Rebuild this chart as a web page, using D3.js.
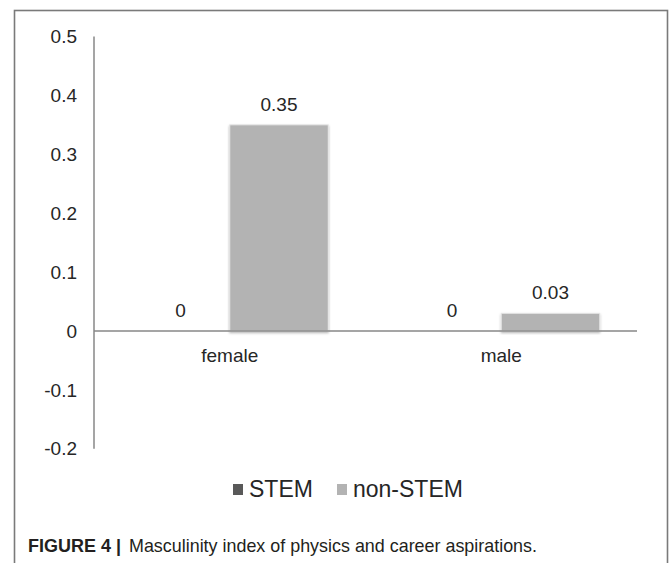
<!DOCTYPE html>
<html>
<head>
<meta charset="utf-8">
<script src="https://cdn.jsdelivr.net/npm/d3@7"></script>
<style>
  html, body { margin: 0; padding: 0; background: #fff; }
  svg { display: block; font-family: "Liberation Sans", Arial, sans-serif; }
</style>
</head>
<body>
<div id="chart"></div>
<script>
const categories = ['female', 'male']
const seriesNames = ['STEM', 'non-STEM']
const stemValues = [0, 0]
const nonStemValues = [0.35, 0.03]
const valueLabels = [['0', '0.35'], ['0', '0.03']]
const yTicks = [-0.2, -0.1, 0, 0.1, 0.2, 0.3, 0.4, 0.5]
const yTickLabels = ['-0.2', '-0.1', '0', '0.1', '0.2', '0.3', '0.4', '0.5']

const colors = { 'STEM': '#595959', 'non-STEM': '#b3b3b3' }

const width = 670
const height = 563
const margin = { left: 94, right: 33 }

const svg = d3.select('#chart').append('svg')
  .attr('width', width).attr('height', height)

const defs = svg.append('defs')
const shadow = defs.append('filter').attr('id', 'shadow')
  .attr('x', '-10%').attr('y', '-10%').attr('width', '120%').attr('height', '130%')
shadow.append('feDropShadow')
  .attr('dx', 0).attr('dy', 1.5).attr('stdDeviation', 1.2)
  .attr('flood-color', '#000').attr('flood-opacity', 0.3)

// outer frame (bottom edge runs off the page)
svg.append('rect')
  .attr('x', 14.5).attr('y', 10.5)
  .attr('width', 653).attr('height', 600)
  .attr('fill', 'none').attr('stroke', '#7a7a7a').attr('stroke-width', 1.6)

const innerW = width - margin.left - margin.right
const y = d3.scaleLinear().domain([-0.2, 0.5]).range([448.8, 36.5])
const x0 = d3.scaleBand().domain(categories).range([margin.left, margin.left + innerW])
const x1 = d3.scaleBand().domain(seriesNames).range([0, x0.bandwidth()]).paddingInner(0).paddingOuter(0.378)

const g = svg.append('g')

// y axis (line only, labels on the left)
g.append('line')
  .attr('x1', margin.left).attr('x2', margin.left)
  .attr('y1', y(0.5)).attr('y2', y(-0.2))
  .attr('stroke', '#878787').attr('stroke-width', 1.5)

g.selectAll('text.ytick').data(yTicks).join('text')
  .attr('class', 'ytick')
  .attr('x', 77).attr('y', d => y(d))
  .attr('dy', '0.35em')
  .attr('text-anchor', 'end')
  .attr('font-size', 19).attr('fill', '#262626')
  .text((d, i) => yTickLabels[i])

const rows = categories.map((c, i) => ({ cat: c, values: [stemValues[i], nonStemValues[i]], labels: valueLabels[i] }))
const bars = rows.flatMap(r => seriesNames.map((s, j) => ({ cat: r.cat, series: s, value: r.values[j], label: r.labels[j] })))

g.selectAll('rect.bar').data(bars.filter(d => d.value !== 0)).join('rect')
  .attr('class', 'bar')
  .attr('x', d => x0(d.cat) + x1(d.series))
  .attr('width', x1.bandwidth())
  .attr('y', d => y(Math.max(0, d.value)))
  .attr('height', d => Math.abs(y(d.value) - y(0)))
  .attr('fill', d => colors[d.series])
  .attr('stroke', '#e6e6e6').attr('stroke-width', 1)
  .attr('filter', 'url(#shadow)')

// zero baseline
g.append('line')
  .attr('x1', margin.left).attr('x2', margin.left + innerW)
  .attr('y1', y(0)).attr('y2', y(0))
  .attr('stroke', '#878787').attr('stroke-width', 1.5)

g.selectAll('text.vlabel').data(bars).join('text')
  .attr('class', 'vlabel')
  .attr('x', d => x0(d.cat) + x1(d.series) + x1.bandwidth() / 2)
  .attr('y', d => y(Math.max(0, d.value)) - 14)
  .attr('text-anchor', 'middle')
  .attr('font-size', 19).attr('fill', '#262626')
  .text(d => d.label)

g.selectAll('text.xcat').data(categories).join('text')
  .attr('class', 'xcat')
  .attr('x', d => x0(d) + x0.bandwidth() / 2)
  .attr('y', y(0) + 31)
  .attr('text-anchor', 'middle')
  .attr('font-size', 19).attr('fill', '#262626')
  .text(d => d)

// legend
const legendX = [233, 337]
const legend = svg.append('g')
seriesNames.forEach((s, i) => {
  legend.append('rect')
    .attr('x', legendX[i]).attr('y', 484)
    .attr('width', 10).attr('height', 11)
    .attr('fill', colors[s])
  legend.append('text')
    .attr('x', legendX[i] + 16).attr('y', 497)
    .attr('font-size', 23).attr('fill', '#262626')
    .text(s)
})

// caption
const capBold = svg.append('text')
  .attr('x', 28).attr('y', 552)
  .attr('font-size', 19).attr('font-weight', 'bold').attr('fill', '#231f20')
  .attr('textLength', 93).attr('lengthAdjust', 'spacingAndGlyphs')
  .text('FIGURE 4 |')
svg.append('text')
  .attr('x', 129).attr('y', 552)
  .attr('font-size', 19).attr('fill', '#231f20')
  .attr('textLength', 408).attr('lengthAdjust', 'spacingAndGlyphs')
  .text('Masculinity index of physics and career aspirations.')
</script>
</body>
</html>
